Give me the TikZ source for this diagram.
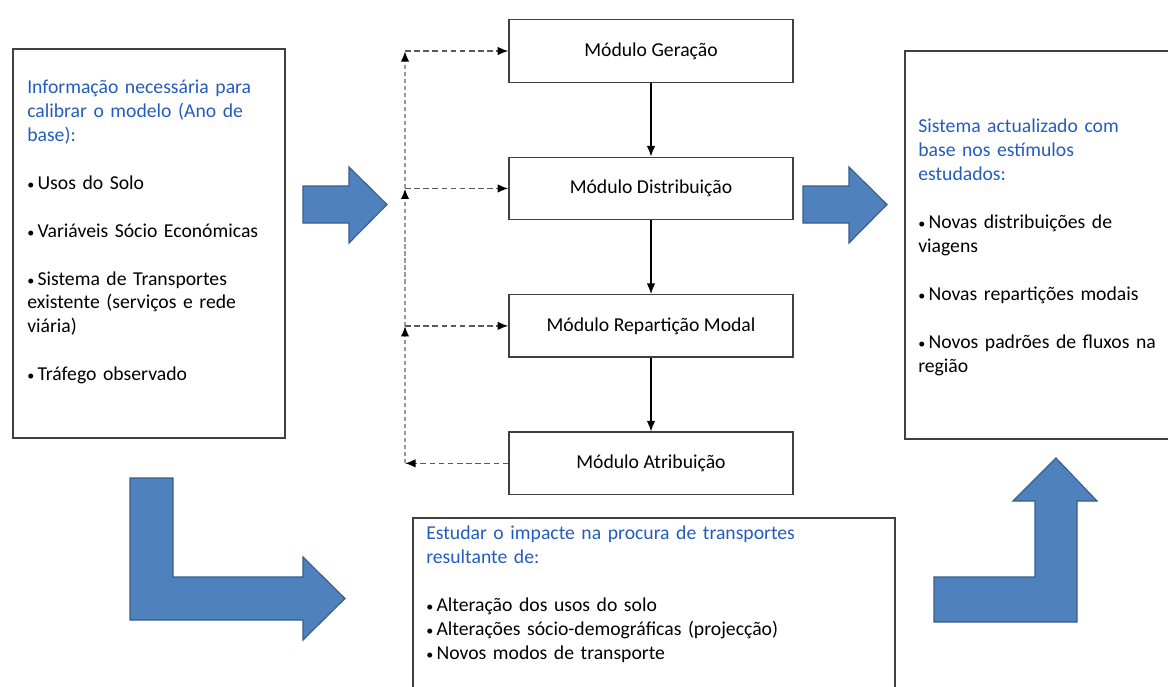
\documentclass[tikz,border=0pt]{standalone}
\usepackage{fontspec}
\setmainfont{Carlito}
\usetikzlibrary{positioning,arrows.meta}
\definecolor{headblue}{RGB}{36,92,188}
\definecolor{arrowfill}{RGB}{79,129,189}
\definecolor{arrowedge}{RGB}{56,93,138}
\newcommand{\blt}{{\fontsize{10}{10}\selectfont•}\,}
\begin{document}
\begin{tikzpicture}[x=0.025cm, y=-0.025cm,
    textfont/.style={font=\fontsize{14}{17}\selectfont},
    module/.style={draw=black!75, line width=1pt, textfont,
      minimum width=7.1cm, minimum height=1.56cm},
    frame/.style={draw=black!75, line width=1.2pt},
    txt/.style={anchor=north west, inner sep=0pt, align=left, textfont},
    blockarrow/.style={fill=arrowfill, draw=arrowedge, line width=0.8pt},
    flow/.style={-{Latex[length=7.5pt,width=6pt]}, line width=0.8pt},
    feed/.style={-{Latex[length=7.5pt,width=6pt,color=black]}, dash pattern=on 4pt off 2.5pt, draw=black!65, line width=1pt},
    back/.style={-{Latex[length=7.5pt,width=6pt,color=black]}, densely dashed, draw=black!40, line width=1.4pt}]
      \useasboundingbox (0,0) rectangle (1168,686);
      \clip (0,0) rectangle (1168,686);

      \node[frame, minimum width=6.8cm, minimum height=9.725cm] (inbox) at (149,243.5) {};
      \node[frame, minimum width=7.125cm, minimum height=9.7cm] (outbox) at (1047.5,245) {};
      \node[frame, minimum width=12.05cm, minimum height=4.55cm] (studybox) at (654,609) {};

      \node[txt, text width=7cm] (intext) at (27,80)
        {\color{headblue}Informação necessária para\\
         calibrar o modelo (Ano de\\
         base):\\[17pt]
         \color{black}\blt Usos do Solo\\[17pt]
         \blt Variáveis Sócio Económicas\\[17pt]
         \blt Sistema de Transportes\\
         existente (serviços e rede\\
         viária)\\[17pt]
         \blt Tráfego observado};
      \node[txt, text width=7cm] (outtext) at (918,119)
        {\color{headblue}Sistema actualizado com\\
         base nos estímulos\\
         estudados:\\[17pt]
         \color{black}\blt Novas distribuições de\\
         viagens\\[17pt]
         \blt Novas repartições modais\\[17pt]
         \blt Novos padrões de fluxos na\\
         região};
      \node[txt, text width=11cm] (studytext) at (426,526)
        {\color{headblue}Estudar o impacte na procura de transportes\\
         resultante de:\\[17pt]
         \color{black}\blt Alteração dos usos do solo\\
         \blt Alterações sócio-demográficas (projecção)\\
         \blt Novos modos de transporte};

      \node[module] (ger) at (651,51) {Módulo Geração};
      \node[module, below=1.84cm of ger] (dist) {Módulo Distribuição};
      \node[module, below=1.84cm of dist] (rep) {Módulo Repartição Modal};
      \node[module, below=1.84cm of rep] (atr) {Módulo Atribuição};

      \draw[flow] (ger) -- (dist);
      \draw[flow] (dist) -- (rep);
      \draw[flow] (rep) -- (atr);

      \coordinate (rail) at (405,0);
      \coordinate (c1) at (ger.west -| rail);
      \coordinate (c2) at (dist.west -| rail);
      \coordinate (c3) at (rep.west -| rail);
      \coordinate (c4) at (atr.west -| rail);
      \draw[feed] (atr.west) -- (c4);
      \draw[back] (c4) -- (c3);
      \draw[back] (c3) -- (c2);
      \draw[back] (c2) -- (c1);
      \draw[feed] (c1) -- (ger.west);
      \draw[feed] (c2) -- (dist.west);
      \draw[feed] (c3) -- (rep.west);

      \draw[blockarrow] (303,186) -- (349,186) -- (349,167) -- (387,204.5)
        -- (349,243) -- (349,223) -- (303,223) -- cycle;
      \draw[blockarrow] (803,186) -- (849,186) -- (849,167) -- (887,204.5)
        -- (849,243) -- (849,223) -- (803,223) -- cycle;
      \draw[blockarrow] (130,478) -- (173,478) -- (173,577) -- (303,577) -- (303,557)
        -- (345,598.5) -- (303,640) -- (303,620) -- (130,620) -- cycle;
      \draw[blockarrow] (934,577) -- (1035,577) -- (1035,501) -- (1013,501)
        -- (1056,458) -- (1097,501) -- (1077,501) -- (1077,622) -- (934,622) -- cycle;
\end{tikzpicture}
\end{document}
